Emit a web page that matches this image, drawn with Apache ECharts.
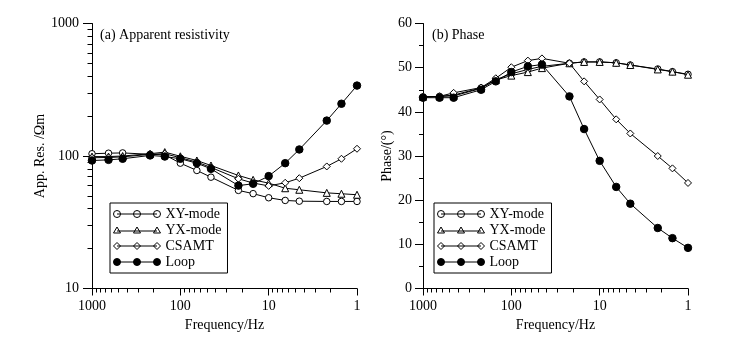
<!DOCTYPE html>
<html><head><meta charset="utf-8">
<script src="https://cdn.jsdelivr.net/npm/echarts@6/dist/echarts.min.js"></script>
<style>html,body{margin:0;padding:0;background:#fff}#c{width:736px;height:337px}</style>
</head><body><div id="c"></div>
<script>
// ---- data ----
const freqs = [1000, 650, 450, 220, 150, 100, 65, 45, 22, 15, 10, 6.5, 4.5, 2.2, 1.5, 1];
const rhoXY    = [104, 105, 105.5, 103, 102, 88.3, 77.8, 69.2, 55, 52, 48.4, 46.2, 45.6, 45.4, 45.4, 45.4];
const rhoYX    = [99, 99, 100, 104, 107, 99.5, 92.5, 84.8, 71.3, 66.1, 62.4, 57.1, 55.6, 52.7, 51.9, 51];
const rhoCSAMT = [97, 97.5, 98.5, 103, 104, 97, 90, 82, 67.3, 62.5, 59.5, 62.8, 68, 83.4, 95.3, 113.4];
const rhoLoop  = [92.5, 93.5, 95.3, 101, 99.1, 95.3, 88.3, 80, 59.8, 61.7, 70.5, 88.3, 112, 185, 248, 340];
const phXY     = [43.4, 43.5, 43.8, 45.4, 47.3, 48.6, 49.6, 50.3, 51.0, 51.3, 51.3, 51.1, 50.6, 49.7, 49.1, 48.5];
const phYX     = [43.4, 43.5, 43.6, 45.3, 47.2, 48.2, 49.0, 49.9, 51.0, 51.3, 51.3, 51.1, 50.6, 49.6, 49.1, 48.4];
const phCSAMT  = [43.4, 43.5, 44.3, 45.5, 47.6, 50.1, 51.6, 52.1, 51.0, 46.9, 42.8, 38.3, 35.1, 30.0, 27.2, 23.9];
const phLoop   = [43.2, 43.2, 43.2, 45.0, 46.9, 49.0, 50.3, 50.7, 43.5, 36.1, 28.9, 23.0, 19.2, 13.7, 11.4, 9.2];
const seriesNames = ['XY-mode', 'YX-mode', 'CSAMT', 'Loop'];
const xTickLabels = ['1', '10', '100', '1000'];
const rhoTickLabels = ['10', '100', '1000'];
const panelTitles = ['(a) Apparent resistivity', '(b) Phase'];
const axisNames = { freq: 'Frequency/Hz', rho: 'App. Res. /\u03A9m', phase: 'Phase/(\u00B0)' };

// ---- styling ----
const FONT = '"Liberation Serif", "Times New Roman", serif';
const BLACK = '#000';
const txt = { color: BLACK, fontSize: 14, fontFamily: FONT };

// minor tick positions for the tick-only overlay grids (decades measured from the axis start)
// x overlay: 0 at f=1000 (left) -> 3 at f=1 (right); y overlay: 0 at rho=10 -> 2 at rho=1000
const minorX = [], minorY = [];
for (let d = 0; d <= 2; d++) for (let k = 2; k <= 9; k++) minorX.push(3 - (d + Math.log10(k)));
for (let d = 0; d <= 1; d++) for (let k = 2; k <= 9; k++) minorY.push(d + Math.log10(k));

const symStyle = [
  { symbol: 'circle', symbolSize: 6.5, itemStyle: { color: '#fff', borderColor: BLACK, borderWidth: 1 } },
  { symbol: 'triangle', symbolSize: 7, itemStyle: { color: '#fff', borderColor: BLACK, borderWidth: 1 } },
  { symbol: 'diamond', symbolSize: 7, itemStyle: { color: '#fff', borderColor: BLACK, borderWidth: 1 } },
  { symbol: 'circle', symbolSize: 7.5, itemStyle: { color: BLACK, borderColor: BLACK, borderWidth: 1 } }
];

function circ(cx) { return 'M' + (cx - 3.5) + ' 3.5A3.5 3.5 0 1 1 ' + (cx + 3.5) + ' 3.5A3.5 3.5 0 1 1 ' + (cx - 3.5) + ' 3.5Z'; }
function tri(cx) { return 'M' + cx + ' 0.5L' + (cx + 3.5) + ' 6.5L' + (cx - 3.5) + ' 6.5Z'; }
function dia(cx) { return 'M' + cx + ' 0L' + (cx + 3.5) + ' 3.5L' + cx + ' 7L' + (cx - 3.5) + ' 3.5Z'; }
const lineP = 'M3.5 3.5L43.5 3.5';
const icons = [
  'path://' + circ(3.5) + circ(23.5) + circ(43.5) + lineP,
  'path://M0 0L0 0' + tri(3.5) + tri(23.5) + tri(43.5) + 'M3.5 4.5L43.5 4.5M47 7L47 7',
  'path://' + dia(3.5) + dia(23.5) + dia(43.5) + lineP,
  'path://' + circ(3.5) + circ(23.5) + circ(43.5) + lineP
];

function legendFor(left) {
  return {
    left: left, top: 203, orient: 'vertical',
    itemWidth: 47, itemHeight: 7, itemGap: 0, itemTextGap: 7,
    padding: [3, 6, 3, 3],
    borderColor: BLACK, borderWidth: 1, backgroundColor: '#fff',
    selectedMode: false, z: 10,
    textStyle: Object.assign({ lineHeight: 16 }, txt),
    data: seriesNames.map((n, i) => ({
      name: n, icon: icons[i],
      itemStyle: { color: i === 3 ? BLACK : '#fff', borderColor: BLACK, borderWidth: 1 }
    }))
  };
}

function logX(grid) {
  return {
    gridIndex: grid, type: 'log', logBase: 10, min: 1, max: 1000, inverse: true, position: 'bottom',
    name: axisNames.freq, nameLocation: 'middle', nameGap: 27, nameTextStyle: txt,
    axisLine: { onZero: false, lineStyle: { color: BLACK, width: 1 } },
    axisTick: { length: 7, lineStyle: { color: BLACK, width: 1 } },
    axisLabel: Object.assign({ margin: 11, formatter: v => xTickLabels.find(t => Math.abs(+t - v) < 1e-6 * Math.max(1, v)) || '' }, txt),
    splitLine: { show: false }
  };
}
function minorXAxis(grid) {
  return {
    gridIndex: grid, type: 'value', min: 0, max: 3,
    axisLine: { show: false, onZero: true }, axisLabel: { show: false }, splitLine: { show: false },
    axisTick: { show: true, length: 4, customValues: minorX, lineStyle: { color: BLACK, width: 1 } }
  };
}

const mk = (xi, yi, vals, i) => Object.assign({
  type: 'line', name: seriesNames[i], xAxisIndex: xi, yAxisIndex: yi,
  data: freqs.map((f, k) => [f, vals[k]]),
  showSymbol: true, lineStyle: { color: BLACK, width: 1 },
  emphasis: { disabled: true }, silent: true, z: 2 + i
}, symStyle[i]);
// empty series that only activates the tick-only overlay grids
const anchor = (xi, yi) => ({ type: 'line', name: '_ticks' + xi, xAxisIndex: xi, yAxisIndex: yi, data: [], silent: true, showSymbol: false });

const g0 = { left: 92, top: 23.5, width: 265, height: 265, containLabel: false, outerBoundsMode: 'none' };
const g1 = { left: 423, top: 23.5, width: 265, height: 265, containLabel: false, outerBoundsMode: 'none' };

const option = {
  animation: false,
  backgroundColor: '#fff',
  title: [
    { text: panelTitles[0], left: 100, top: 28, padding: 0, textStyle: Object.assign({ fontWeight: 'normal' }, txt) },
    { text: panelTitles[1], left: 432, top: 28, padding: 0, textStyle: Object.assign({ fontWeight: 'normal' }, txt) }
  ],
  legend: [legendFor(110), legendFor(434)],
  // grids 2 and 3 duplicate 0 and 1; they only carry the minor log ticks
  grid: [g0, g1, Object.assign({}, g0), Object.assign({}, g1)],
  xAxis: [logX(0), logX(1), minorXAxis(2), minorXAxis(3)],
  yAxis: [
    {
      gridIndex: 0, type: 'log', logBase: 10, min: 10, max: 1000, position: 'left',
      name: axisNames.rho, nameLocation: 'middle', nameGap: 41, nameTextStyle: txt,
      axisLine: { onZero: false, lineStyle: { color: BLACK, width: 1 } },
      axisTick: { length: 9, lineStyle: { color: BLACK, width: 1 } },
      axisLabel: Object.assign({ margin: 13, formatter: v => rhoTickLabels.find(t => Math.abs(+t - v) < 1e-6 * v) || '' }, txt),
      splitLine: { show: false }
    },
    {
      gridIndex: 1, type: 'value', min: 0, max: 60, interval: 10, position: 'left',
      name: axisNames.phase, nameLocation: 'middle', nameGap: 28, nameTextStyle: txt,
      axisLine: { onZero: false, lineStyle: { color: BLACK, width: 1 } },
      axisTick: { length: 8, lineStyle: { color: BLACK, width: 1 } },
      minorTick: { show: true, splitNumber: 2, length: 4, lineStyle: { color: BLACK, width: 1 } },
      axisLabel: Object.assign({ margin: 11 }, txt),
      splitLine: { show: false }, minorSplitLine: { show: false }
    },
    {
      gridIndex: 2, type: 'value', min: 0, max: 2,
      axisLine: { show: false, onZero: true }, axisLabel: { show: false }, splitLine: { show: false },
      axisTick: { show: true, length: 4.5, customValues: minorY, lineStyle: { color: BLACK, width: 1 } }
    },
    {
      gridIndex: 3, type: 'value', min: 0, max: 60,
      axisLine: { show: false }, axisLabel: { show: false }, axisTick: { show: false }, splitLine: { show: false }
    }
  ],
  series: [
    mk(0, 0, rhoXY, 0), mk(0, 0, rhoYX, 1), mk(0, 0, rhoCSAMT, 2), mk(0, 0, rhoLoop, 3),
    mk(1, 1, phXY, 0), mk(1, 1, phYX, 1), mk(1, 1, phCSAMT, 2), mk(1, 1, phLoop, 3),
    anchor(2, 2), anchor(3, 3)
  ]
};
const chart = echarts.init(document.getElementById('c'), null, { renderer: 'canvas' });
chart.setOption(option);
</script>
</body></html>
